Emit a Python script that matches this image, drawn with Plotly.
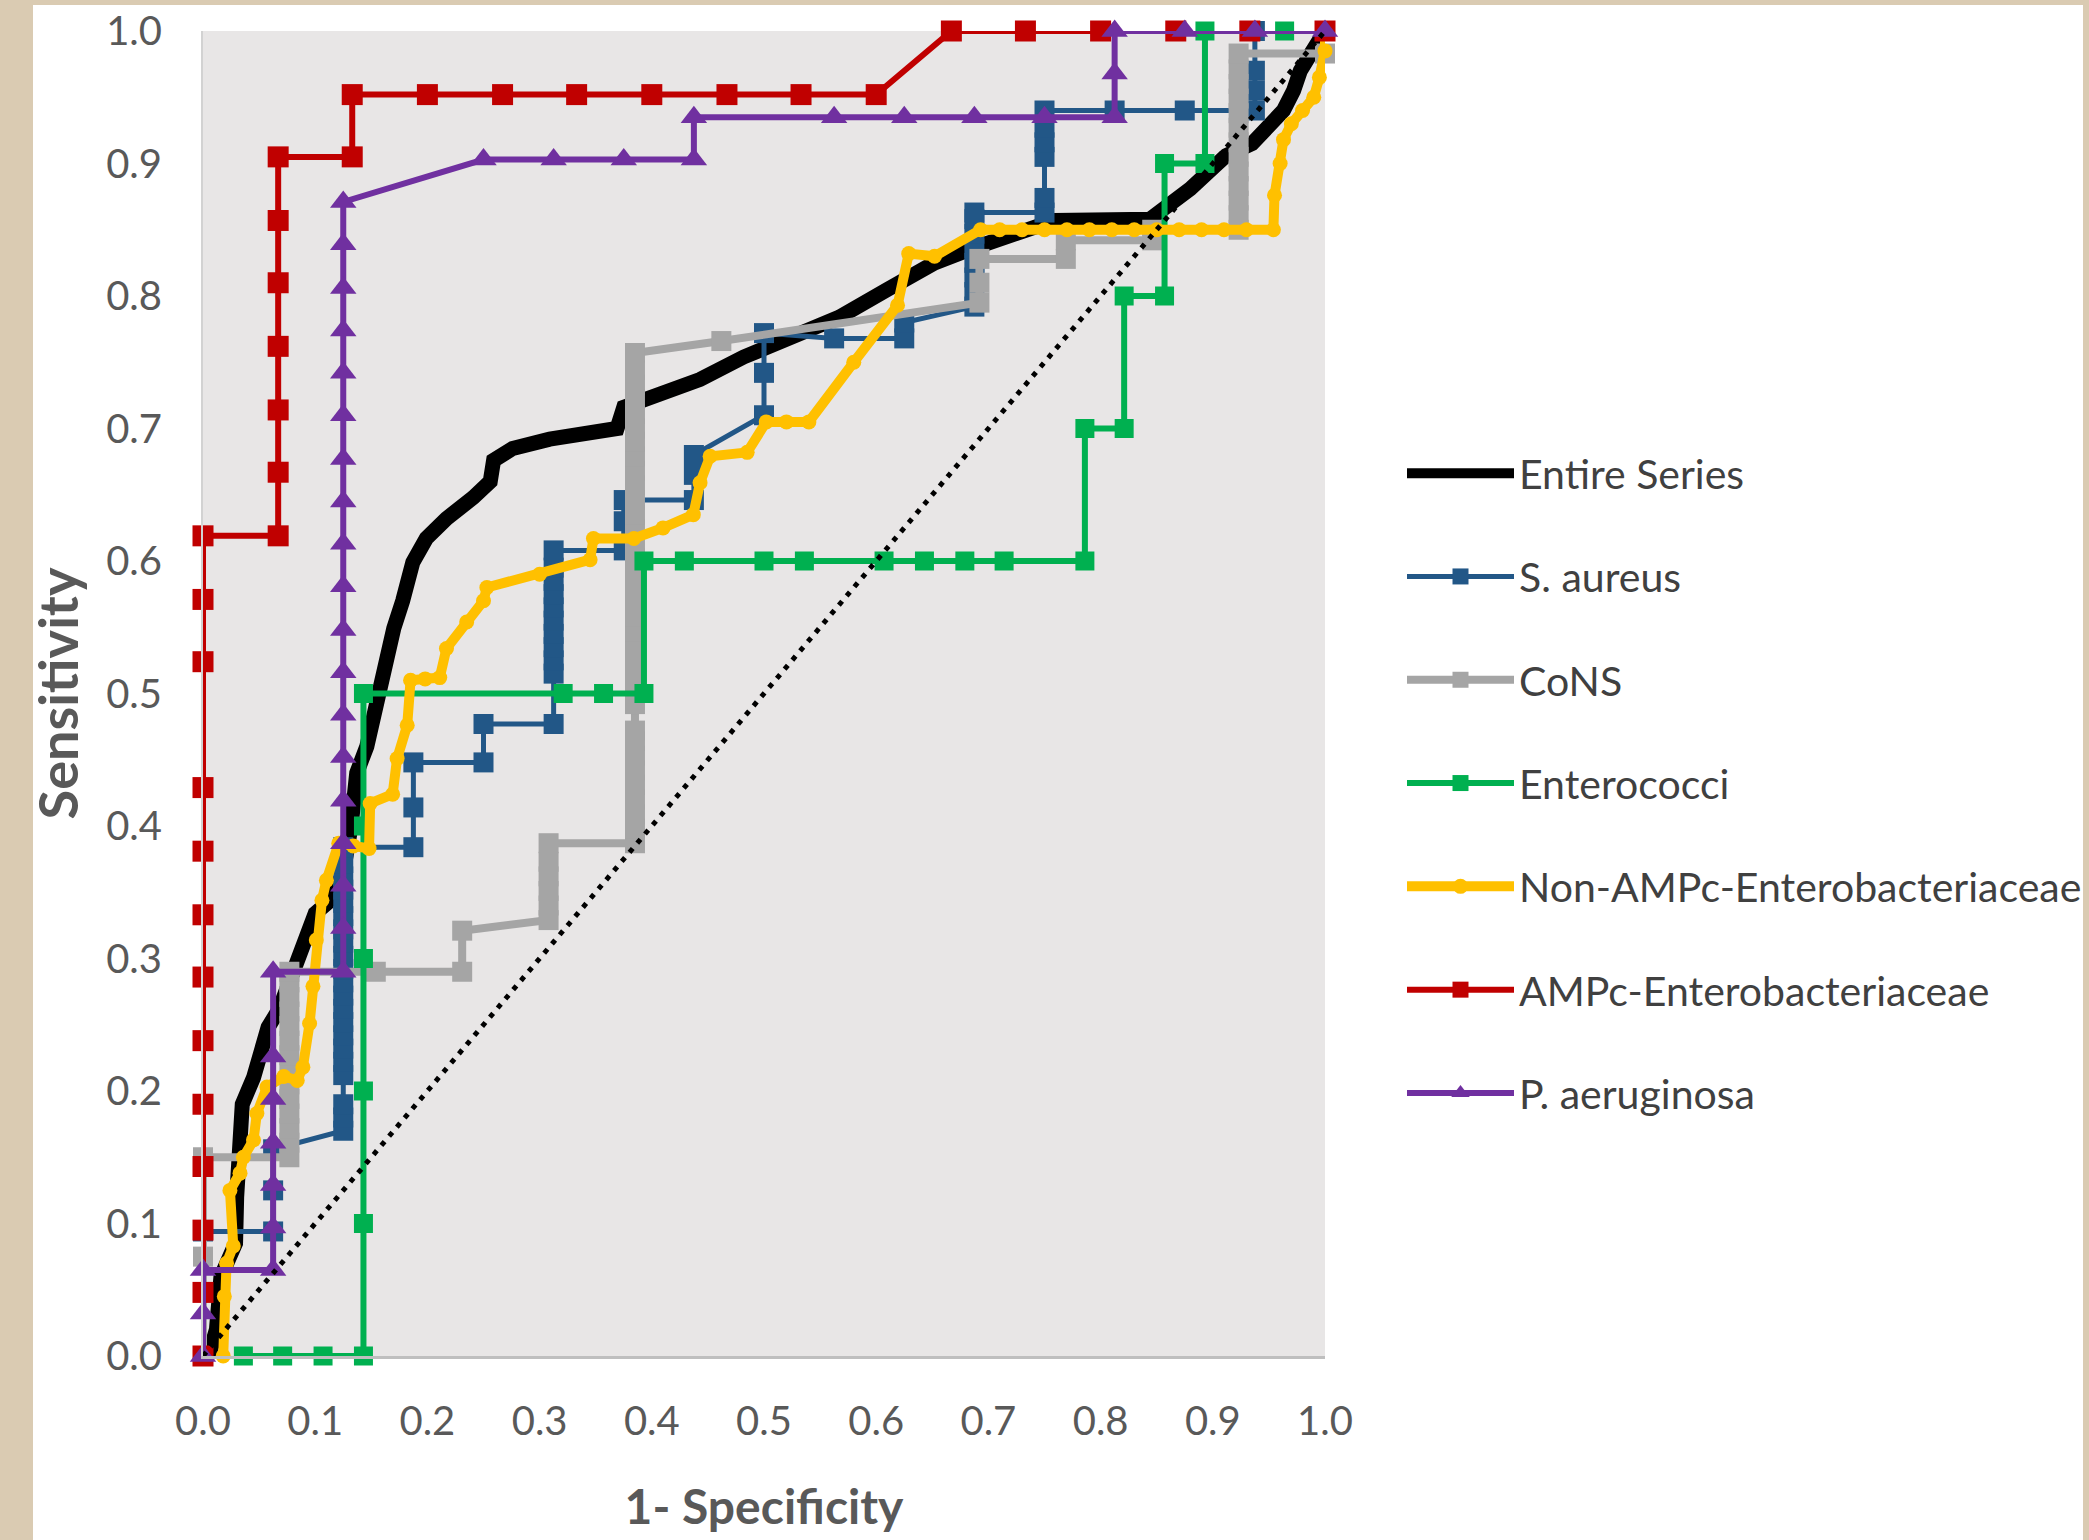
import plotly.graph_objects as go

# ---------------- data ----------------
ent_x = [0.005, 0.012, 0.016, 0.022, 0.029, 0.030, 0.031, 0.035, 0.045, 0.053,
         0.058, 0.068, 0.080, 0.090, 0.100, 0.115, 0.125, 0.132, 0.137, 0.146,
         0.152, 0.158, 0.170, 0.178, 0.187, 0.199, 0.217, 0.241, 0.256, 0.259,
         0.276, 0.309, 0.340, 0.369, 0.375, 0.392, 0.443, 0.482, 0.524, 0.567,
         0.610, 0.652, 0.686, 0.716, 0.759, 0.844, 0.859, 0.880, 0.903, 0.912,
         0.935, 0.950, 0.963, 0.972, 0.978, 0.986, 0.992, 1.000]
ent_y = [0.000, 0.020, 0.060, 0.075, 0.085, 0.120, 0.155, 0.190, 0.210, 0.230,
         0.248, 0.262, 0.290, 0.316, 0.334, 0.345, 0.365, 0.400, 0.440, 0.460,
         0.485, 0.508, 0.549, 0.570, 0.599, 0.617, 0.632, 0.648, 0.660, 0.676,
         0.685, 0.692, 0.697, 0.700, 0.716, 0.721, 0.737, 0.754, 0.768, 0.784,
         0.805, 0.825, 0.836, 0.845, 0.857, 0.858, 0.867, 0.881, 0.899, 0.906,
         0.915, 0.930, 0.940, 0.955, 0.970, 0.981, 0.991, 1.000]

sa_x = [0.000, 0.000, 0.0625, 0.0625, 0.0625,
        0.125, 0.125, 0.125, 0.125, 0.125, 0.125, 0.125, 0.125, 0.125, 0.125,
        0.125, 0.125, 0.125, 0.125, 0.125, 0.125, 0.125, 0.125, 0.125, 0.125,
        0.125,
        0.1875, 0.1875, 0.1875,
        0.250, 0.250,
        0.3125, 0.3125, 0.3125, 0.3125, 0.3125, 0.3125, 0.3125, 0.3125, 0.3125, 0.3125,
        0.3125,
        0.375, 0.375, 0.375,
        0.4375, 0.4375, 0.4375,
        0.500, 0.500, 0.500,
        0.5625,
        0.625, 0.625,
        0.6875, 0.6875, 0.6875, 0.6875, 0.6875, 0.6875, 0.6875, 0.6875,
        0.750, 0.750, 0.750, 0.750, 0.750, 0.750,
        0.8125, 0.875,
        0.9375, 0.9375, 0.9375, 0.9375,
        1.000]
sa_y = [0.000, 0.094, 0.094, 0.125, 0.156,
        0.170, 0.180, 0.190, 0.212, 0.222, 0.232, 0.242, 0.252, 0.262, 0.272,
        0.282, 0.292, 0.302, 0.312, 0.322, 0.332, 0.342, 0.352, 0.362, 0.372,
        0.384,
        0.384, 0.414, 0.448,
        0.448, 0.477,
        0.477, 0.515, 0.525, 0.535, 0.545, 0.555, 0.565, 0.575, 0.585, 0.595,
        0.608,
        0.608, 0.630, 0.646,
        0.646, 0.665, 0.680,
        0.710, 0.742, 0.772,
        0.768,
        0.768, 0.780,
        0.792, 0.803, 0.814, 0.825, 0.836, 0.847, 0.858, 0.863,
        0.863, 0.874, 0.905, 0.916, 0.927, 0.940,
        0.940, 0.940,
        0.940, 0.955, 0.970, 1.000,
        1.000]

cons_x = [0.000, 0.000, 0.000,
          0.077, 0.077, 0.077, 0.077, 0.077, 0.077, 0.077, 0.077, 0.077, 0.077,
          0.077, 0.077, 0.077, 0.077,
          0.154, 0.231, 0.231,
          0.308, 0.308, 0.308, 0.308, 0.308, 0.308,
          0.385, 0.385, 0.385, 0.385, 0.385, 0.385, 0.385, 0.385, 0.385, 0.385,
          0.385, 0.385, 0.385, 0.385, 0.385, 0.385, 0.385, 0.385, 0.385, 0.385,
          0.385, 0.385, 0.385, 0.385, 0.385, 0.385, 0.385, 0.385, 0.385, 0.385,
          0.385, 0.385, 0.385, 0.385,
          0.462,
          0.692, 0.692, 0.692,
          0.769, 0.769,
          0.846, 0.846,
          0.923, 0.923, 0.923, 0.923, 0.923, 0.923, 0.923, 0.923, 0.923, 0.923,
          0.923, 0.923, 0.923,
          1.000, 1.000]
cons_y = [0.000, 0.075, 0.150,
          0.150, 0.161, 0.172, 0.183, 0.194, 0.205, 0.216, 0.227, 0.238, 0.249,
          0.260, 0.271, 0.282, 0.290,
          0.290, 0.290, 0.321,
          0.329, 0.340, 0.351, 0.362, 0.373, 0.387,
          0.387, 0.398, 0.409, 0.420, 0.431, 0.442, 0.453, 0.464, 0.472, 0.492,
          0.503, 0.514, 0.525, 0.536, 0.547, 0.558, 0.569, 0.580, 0.591, 0.602,
          0.613, 0.624, 0.635, 0.646, 0.657, 0.668, 0.679, 0.690, 0.700, 0.711,
          0.722, 0.733, 0.744, 0.757,
          0.766,
          0.795, 0.810, 0.828,
          0.828, 0.842,
          0.842, 0.850,
          0.850, 0.861, 0.872, 0.883, 0.894, 0.905, 0.916, 0.927, 0.938, 0.949,
          0.960, 0.971, 0.983,
          0.983, 1.000]

entc_x = [0.036, 0.071, 0.107, 0.143, 0.143, 0.143, 0.143, 0.143, 0.143, 0.321,
          0.357, 0.393, 0.393, 0.429, 0.500, 0.536, 0.607, 0.643, 0.679, 0.714,
          0.786, 0.786, 0.821, 0.821, 0.857, 0.857, 0.893, 0.893, 0.964, 1.000]
entc_y = [0.000, 0.000, 0.000, 0.000, 0.100, 0.200, 0.300, 0.400, 0.500, 0.500,
          0.500, 0.500, 0.600, 0.600, 0.600, 0.600, 0.600, 0.600, 0.600, 0.600,
          0.600, 0.700, 0.700, 0.800, 0.800, 0.900, 0.900, 1.000, 1.000, 1.000]

non_x = [0.018, 0.019, 0.021, 0.027, 0.024, 0.033, 0.036, 0.045, 0.048, 0.057,
         0.072, 0.084, 0.089, 0.095, 0.098, 0.101, 0.106, 0.110, 0.121, 0.134,
         0.148, 0.149, 0.169, 0.173, 0.182, 0.185, 0.198, 0.211, 0.217, 0.235,
         0.250, 0.253, 0.300, 0.345, 0.348, 0.384, 0.410, 0.437, 0.443, 0.452,
         0.485, 0.502, 0.520, 0.540, 0.580, 0.619, 0.629, 0.652, 0.693, 0.710,
         0.730, 0.750, 0.770, 0.790, 0.810, 0.830, 0.850, 0.870, 0.890, 0.910,
         0.930, 0.954, 0.955, 0.960, 0.963, 0.970, 0.980, 0.990, 0.995, 1.000, 1.000]
non_y = [0.000, 0.045, 0.070, 0.083, 0.125, 0.138, 0.150, 0.163, 0.183, 0.203,
         0.211, 0.208, 0.218, 0.251, 0.279, 0.314, 0.344, 0.359, 0.387, 0.385,
         0.383, 0.417, 0.424, 0.451, 0.476, 0.510, 0.511, 0.512, 0.534, 0.554,
         0.570, 0.580, 0.590, 0.601, 0.617, 0.617, 0.625, 0.635, 0.659, 0.679,
         0.682, 0.705, 0.705, 0.705, 0.750, 0.793, 0.832, 0.830, 0.850, 0.850,
         0.850, 0.850, 0.850, 0.850, 0.850, 0.850, 0.850, 0.850, 0.850, 0.850,
         0.850, 0.850, 0.876, 0.900, 0.918, 0.930, 0.940, 0.950, 0.965, 0.985, 1.000]

ampc_x = [0.000, 0.000, 0.000, 0.000, 0.000, 0.000, 0.000, 0.000, 0.000, 0.000,
          0.000, 0.000, 0.000, 0.067, 0.067, 0.067, 0.067, 0.067, 0.067, 0.067,
          0.133, 0.133, 0.200, 0.267, 0.333, 0.400, 0.467, 0.533, 0.600, 0.667,
          0.733, 0.800, 0.867, 0.933, 1.000]
ampc_y = [0.000, 0.048, 0.095, 0.143, 0.190, 0.238, 0.286, 0.333, 0.381, 0.429,
          0.524, 0.571, 0.619, 0.619, 0.667, 0.714, 0.762, 0.810, 0.857, 0.905,
          0.905, 0.952, 0.952, 0.952, 0.952, 0.952, 0.952, 0.952, 0.952, 1.000,
          1.000, 1.000, 1.000, 1.000, 1.000]

pa_x = [0.000, 0.000, 0.000, 0.0625, 0.0625, 0.0625, 0.0625, 0.0625, 0.0625, 0.0625,
        0.125, 0.125, 0.125, 0.125, 0.125, 0.125, 0.125, 0.125, 0.125, 0.125,
        0.125, 0.125, 0.125, 0.125, 0.125, 0.125, 0.125, 0.125, 0.125,
        0.250, 0.3125, 0.375, 0.4375, 0.4375, 0.5625, 0.625, 0.6875, 0.750, 0.8125,
        0.8125, 0.8125, 0.875, 0.9375, 1.000]
pa_y = [0.000, 0.032, 0.065, 0.065, 0.097, 0.129, 0.161, 0.194, 0.226, 0.290,
        0.290, 0.323, 0.355, 0.387, 0.419, 0.452, 0.484, 0.516, 0.548, 0.581,
        0.613, 0.645, 0.677, 0.710, 0.742, 0.774, 0.806, 0.839, 0.871,
        0.903, 0.903, 0.903, 0.903, 0.935, 0.935, 0.935, 0.935, 0.935, 0.935,
        0.968, 1.000, 1.000, 1.000, 1.000]

ref_x = [0.0, 1.0]
ref_y = [0.0, 1.0]

x_ticks = [0.0, 0.1, 0.2, 0.3, 0.4, 0.5, 0.6, 0.7, 0.8, 0.9, 1.0]
y_ticks = [0.0, 0.1, 0.2, 0.3, 0.4, 0.5, 0.6, 0.7, 0.8, 0.9, 1.0]

# ---------------- layout geometry ----------------
W, H = 2089, 1540
ML, MR, MT, MB = 203, 764, 31, 184
PW = W - ML - MR
PH = H - MT - MB


def pxx(p):
    return (p - ML) / PW


def pxy(p):
    return (H - MB - p) / PH


FONT = "Lato, Carlito, Calibri, 'Open Sans', sans-serif"
TXT = "#595959"

fig = go.Figure()

series = [
    ("Entire Series", ent_x, ent_y, "#000000", 15, None, 0),
    ("S. aureus", sa_x, sa_y, "#225787", 5, "square", 20),
    ("CoNS", cons_x, cons_y, "#A5A5A5", 8, "square", 20),
    ("Enterococci", entc_x, entc_y, "#00B050", 6, "square", 19),
    ("Non-AMPc-Enterobacteriaceae", non_x, non_y, "#FFC000", 10, "circle", 15),
    ("AMPc-Enterobacteriaceae", ampc_x, ampc_y, "#C00000", 6, "square", 21),
    ("P. aeruginosa", pa_x, pa_y, "#7030A0", 6, "triangle-up", 23),
]

for name, xs, ys, col, lw, sym, ms in series:
    if sym is None:
        fig.add_trace(go.Scatter(
            x=xs, y=ys, name=name, mode="lines", legendgroup=name,
            line=dict(color=col, width=lw), cliponaxis=False))
    else:
        fig.add_trace(go.Scatter(
            x=xs, y=ys, name=name, mode="lines+markers", legendgroup=name,
            line=dict(color=col, width=lw),
            marker=dict(symbol=sym, size=ms, color=col, line=dict(width=0)),
            cliponaxis=False))

fig.add_trace(go.Scatter(
    x=ref_x, y=ref_y, mode="lines", showlegend=False, hoverinfo="skip",
    line=dict(color="#000000", width=5, dash="5px,7px"), cliponaxis=False))

beige = "#dacbb2"
shapes = [
    dict(type="rect", xref="paper", yref="paper", x0=pxx(0), x1=pxx(33),
         y0=pxy(H), y1=pxy(0), fillcolor=beige, line=dict(width=0), layer="below"),
    dict(type="rect", xref="paper", yref="paper", x0=pxx(0), x1=pxx(W),
         y0=pxy(5), y1=pxy(0), fillcolor=beige, line=dict(width=0), layer="below"),
    dict(type="rect", xref="paper", yref="paper", x0=pxx(2083), x1=pxx(W),
         y0=pxy(H), y1=pxy(0), fillcolor=beige, line=dict(width=0), layer="below"),
]

fig.update_layout(
    width=W, height=H,
    margin=dict(l=ML, r=MR, t=MT, b=MB, pad=0, autoexpand=False),
    paper_bgcolor="white",
    plot_bgcolor="#e8e6e6",
    font=dict(family=FONT, color=TXT),
    shapes=shapes,
    showlegend=True,
    legend=dict(
        x=pxx(1402), y=pxy(440), xanchor="left", yanchor="top",
        font=dict(family=FONT, size=41, color="#404040"),
        bgcolor="rgba(0,0,0,0)", borderwidth=0,
        itemwidth=107, tracegroupgap=47, itemsizing="trace",
    ),
    xaxis=dict(
        range=[0, 1], tickvals=x_ticks, tickformat=".1f",
        showgrid=False, zeroline=False, showline=True,
        linecolor="#bfbfbf", linewidth=3, ticks="",
        ticklabelstandoff=28,
        tickfont=dict(family=FONT, size=40, color=TXT),
        title=dict(text="1- Specificity", standoff=48,
                   font=dict(family=FONT, size=48, color=TXT, weight="bold")),
    ),
    yaxis=dict(
        range=[0, 1], tickvals=y_ticks, tickformat=".1f",
        showgrid=False, zeroline=False, showline=True,
        linecolor="#d2d2d2", linewidth=2, ticks="",
        ticklabelstandoff=31,
        tickfont=dict(family=FONT, size=40, color=TXT),
        title=dict(text="Sensitivity", standoff=10,
                   font=dict(family=FONT, size=54, color=TXT, weight="bold")),
    ),
)

fig.write_html(
    "out.html",
    config={"displayModeBar": False},
    post_script=("document.documentElement.style.margin='0';"
                 "document.documentElement.style.padding='0';"
                 "document.documentElement.style.overflow='hidden';"
                 "document.body.style.margin='0';"
                 "document.body.style.padding='0';"
                 "document.body.style.overflow='hidden';"
                 "window.scrollTo(0,0);"),
)
